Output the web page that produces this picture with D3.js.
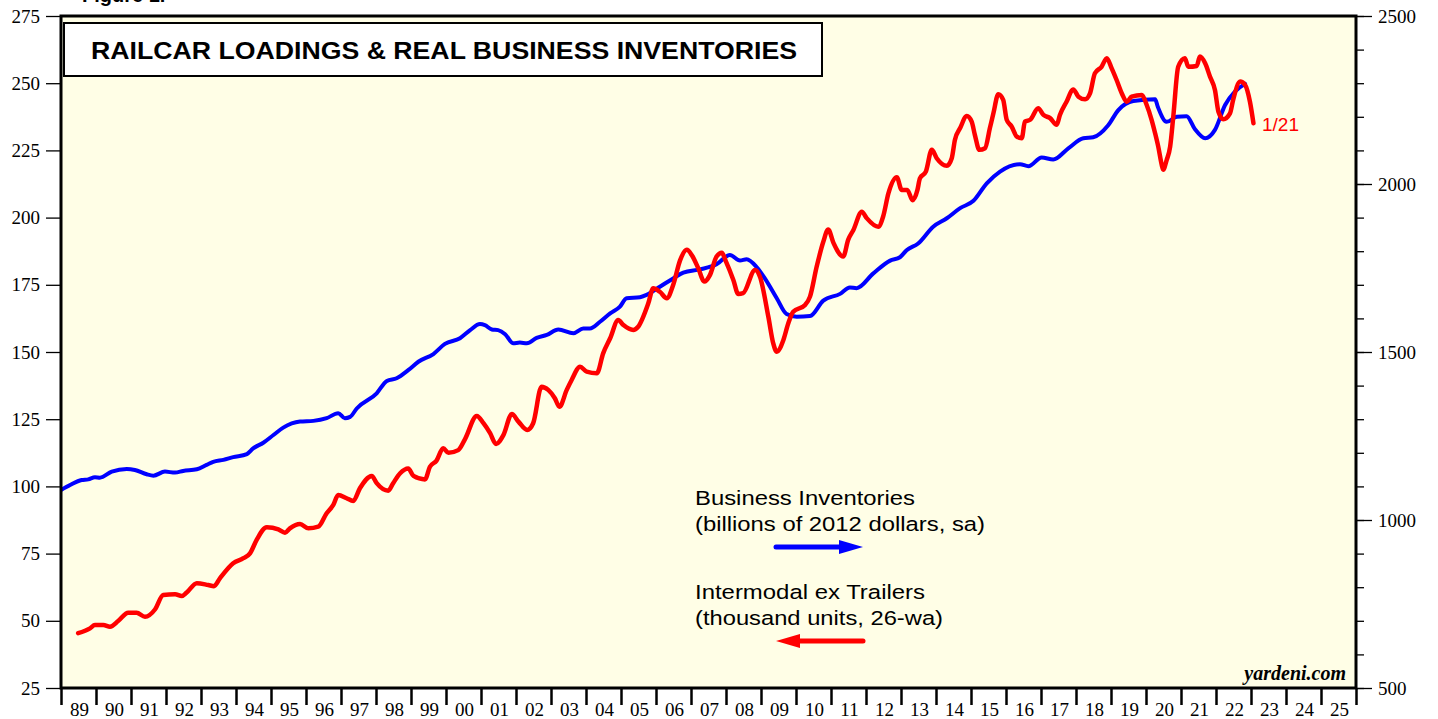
<!DOCTYPE html>
<html>
<head>
<meta charset="utf-8">
<script src="https://cdn.jsdelivr.net/npm/d3@7"></script>
<style>
  html, body { margin: 0; padding: 0; background: #fff; }
  svg { display: block; }
</style>
</head>
<body>
<div id="chart"></div>
<script>
// Intermodal ex trailers (thousand units, 26-wa) -- left axis
const redYears = [1989.49,1989.83,1989.97,1990.21,1990.40,1990.64,1990.92,1991.16,1991.40,1991.69,1991.92,1992.26,1992.45,1992.59,1992.88,1993.21,1993.37,1993.54,1993.92,1994.21,1994.40,1994.59,1994.88,1995.21,1995.40,1995.54,1995.83,1996.07,1996.35,1996.59,1996.78,1996.92,1997.16,1997.35,1997.54,1997.88,1998.02,1998.35,1998.49,1998.69,1998.92,1999.07,1999.40,1999.54,1999.73,1999.92,2000.07,2000.35,2000.54,2000.88,2001.07,2001.26,2001.43,2001.64,2001.88,2002.07,2002.32,2002.49,2002.73,2002.92,2003.11,2003.24,2003.45,2003.59,2003.83,2004.02,2004.31,2004.49,2004.69,2004.92,2005.07,2005.35,2005.49,2005.78,2005.92,2006.11,2006.31,2006.49,2006.69,2006.88,2007.02,2007.21,2007.38,2007.54,2007.73,2007.88,2008.00,2008.21,2008.35,2008.49,2008.83,2008.97,2009.21,2009.35,2009.45,2009.64,2009.78,2009.92,2010.26,2010.40,2010.59,2010.78,2010.92,2011.07,2011.35,2011.49,2011.64,2011.88,2012.02,2012.35,2012.49,2012.64,2012.88,2013.02,2013.18,2013.33,2013.47,2013.54,2013.71,2013.88,2014.02,2014.31,2014.45,2014.54,2014.69,2014.88,2015.02,2015.11,2015.24,2015.40,2015.54,2015.64,2015.78,2015.92,2016.02,2016.16,2016.31,2016.45,2016.54,2016.69,2016.92,2017.07,2017.26,2017.45,2017.54,2017.73,2017.92,2018.07,2018.26,2018.40,2018.54,2018.73,2018.88,2019.02,2019.16,2019.31,2019.45,2019.59,2019.88,2020.02,2020.16,2020.26,2020.35,2020.45,2020.49,2020.59,2020.69,2020.78,2020.92,2021.11,2021.21,2021.45,2021.54,2021.69,2021.83,2021.97,2022.07,2022.21,2022.40,2022.49,2022.69,2022.83,2022.97,2023.07];
const redValues = [45.4,47.2,48.4,48.4,47.8,50.0,53.0,53.0,51.5,54.3,59.6,59.9,59.2,60.5,64.0,63.3,62.9,65.8,71.4,73.3,75.1,80.1,84.8,84.0,82.8,84.4,86.0,84.4,85.0,90.0,93.1,96.8,95.6,94.6,99.3,103.9,101.2,98.4,101.2,104.9,106.7,103.9,102.6,107.3,109.6,114.2,112.5,113.5,117.5,126.2,123.5,119.8,115.8,119.1,126.9,124.1,121.0,123.5,137.1,135.9,132.8,129.6,135.9,139.6,144.5,142.7,142.1,149.5,155.1,161.9,160.0,158.2,159.4,168.1,173.7,172.4,170.0,174.9,184.2,188.0,186.1,181.1,176.2,178.6,185.5,186.9,183.6,176.8,171.6,171.9,180.5,178.0,163.1,153.2,150.1,154.5,160.7,165.0,167.5,170.6,181.7,191.0,195.6,190.6,185.5,191.7,195.4,202.2,199.8,196.6,200.4,209.0,215.0,210.3,210.3,206.5,210.3,214.6,217.1,225.2,222.1,219.3,222.1,228.9,233.3,237.8,235.7,230.8,225.2,225.8,233.3,238.8,245.9,243.8,236.4,233.9,230.1,229.5,235.7,236.4,240.7,238.2,237.0,234.5,238.2,243.1,247.7,245.0,244.0,246.2,253.7,256.1,259.3,255.5,251.2,246.2,243.1,245.0,245.6,241.9,236.4,231.4,226.4,219.6,217.8,221.4,226.4,237.6,256.1,259.3,256.1,256.4,259.9,257.4,252.4,247.5,239.4,236.6,238.8,243.8,250.6,249.4,243.1,235.1];

// Business inventories (billions of 2012 dollars, sa) -- right axis
const blueYears = [1989.00,1989.26,1989.59,1989.78,1989.97,1990.11,1990.45,1990.88,1991.11,1991.45,1991.64,1991.97,1992.26,1992.49,1992.88,1993.16,1993.35,1993.64,1993.92,1994.31,1994.49,1994.78,1995.07,1995.35,1995.83,1996.21,1996.59,1996.92,1997.11,1997.26,1997.45,1998.02,1998.31,1998.59,1998.92,1999.21,1999.64,1999.97,2000.40,2000.69,2000.97,2001.11,2001.31,2001.49,2001.69,2001.92,2002.11,2002.31,2002.59,2002.88,2003.21,2003.64,2003.92,2004.11,2004.40,2004.69,2004.97,2005.16,2005.54,2005.73,2006.11,2006.49,2006.78,2007.26,2007.73,2008.11,2008.40,2008.59,2008.88,2009.11,2009.45,2009.73,2010.02,2010.40,2010.78,2011.26,2011.54,2011.73,2012.21,2012.69,2012.97,2013.16,2013.49,2013.92,2014.31,2014.69,2015.07,2015.45,2015.83,2016.40,2016.64,2017.02,2017.35,2017.78,2018.21,2018.49,2018.92,2019.21,2019.64,2020.26,2020.34,2020.59,2020.88,2021.16,2021.40,2021.69,2021.97,2022.26,2022.54,2022.83];
const blueValues = [1089,1104,1119,1121,1127,1126,1144,1152,1149,1136,1132,1144,1141,1146,1151,1164,1173,1179,1187,1196,1213,1230,1253,1275,1293,1295,1303,1318,1303,1307,1332,1377,1414,1422,1446,1471,1494,1524,1541,1565,1583,1580,1567,1565,1553,1526,1528,1526,1542,1551,1567,1556,1570,1570,1590,1615,1635,1660,1663,1670,1694,1719,1736,1746,1761,1789,1772,1776,1752,1719,1660,1613,1605,1607,1653,1673,1692,1690,1734,1772,1782,1803,1823,1873,1898,1928,1950,2002,2037,2059,2053,2079,2073,2106,2136,2139,2175,2220,2247,2252,2229,2185,2200,2202,2163,2136,2161,2235,2275,2298];

const leftTicks = [25,50,75,100,125,150,175,200,225,250,275];
const rightTicks = [500,1000,1500,2000,2500];
const yearLabels = ["89","90","91","92","93","94","95","96","97","98","99","00","01","02","03","04","05","06","07","08","09","10","11","12","13","14","15","16","17","18","19","20","21","22","23","24","25"];

const W = 1438, H = 719;
const plotL = 61, plotR = 1356, plotT = 16, plotB = 688;
const serif = "'Liberation Serif', 'Times New Roman', serif";
const sans = "'Liberation Sans', Arial, sans-serif";

const svg = d3.select("#chart").append("svg")
  .attr("width", W).attr("height", H);

const x = d3.scaleLinear().domain([1989, 2026]).range([plotL, plotR]);
const yL = d3.scaleLinear().domain([25, 275]).range([plotB, plotT]);
const yR = d3.scaleLinear().domain([500, 2500]).range([plotB, plotT]);

// figure label, mostly cut off at the top edge as in the original
svg.append("text")
  .attr("x", 82).attr("y", 2)
  .attr("font-family", sans).attr("font-weight", "bold").attr("font-size", 20)
  .text("Figure 1.");

// plot background
svg.append("rect")
  .attr("x", plotL).attr("y", plotT)
  .attr("width", plotR - plotL).attr("height", plotB - plotT)
  .attr("fill", "#fffee6");

// left axis
const gL = svg.append("g")
  .attr("transform", `translate(${plotL},0)`)
  .call(d3.axisLeft(yL).tickValues(leftTicks).tickSize(15).tickPadding(6));
gL.select(".domain").remove();
gL.selectAll("line").attr("stroke", "#000").attr("stroke-width", 1.3);
gL.selectAll("text").attr("font-family", serif).attr("font-size", 19).attr("fill", "#000");

// right axis: minor ticks every 100, majors every 500
const gRm = svg.append("g")
  .attr("transform", `translate(${plotR},0)`)
  .call(d3.axisRight(yR).tickValues(d3.range(500, 2501, 100)).tickSize(8).tickFormat(""));
gRm.select(".domain").remove();
gRm.selectAll("line").attr("stroke", "#000").attr("stroke-width", 1.3);

const gR = svg.append("g")
  .attr("transform", `translate(${plotR},0)`)
  .call(d3.axisRight(yR).tickValues(rightTicks).tickSize(16).tickPadding(6).tickFormat(d3.format("d")));
gR.select(".domain").remove();
gR.selectAll("line").attr("stroke", "#000").attr("stroke-width", 1.3);
gR.selectAll("text").attr("font-family", serif).attr("font-size", 19).attr("fill", "#000");

// bottom axis: year boundary ticks, labels centred in each year
const gB = svg.append("g")
  .attr("transform", `translate(0,${plotB})`)
  .call(d3.axisBottom(x).tickValues(d3.range(1989, 2027)).tickSize(17).tickFormat(""));
gB.select(".domain").remove();
gB.selectAll("line").attr("stroke", "#000").attr("stroke-width", 2.5);

svg.append("g").selectAll("text")
  .data(yearLabels)
  .join("text")
  .attr("x", (d, i) => x(1989.5 + i) + 1)
  .attr("y", 716)
  .attr("text-anchor", "middle")
  .attr("font-family", serif).attr("font-size", 19)
  .text(d => d);

// series
svg.append("clipPath").attr("id", "plot-clip")
  .append("rect").attr("x", plotL).attr("y", plotT)
  .attr("width", plotR - plotL).attr("height", plotB - plotT);

const blueLine = d3.line()
  .x(i => x(blueYears[i])).y(i => yR(blueValues[i]))
  .curve(d3.curveMonotoneX);
const redLine = d3.line()
  .x(i => x(redYears[i])).y(i => yL(redValues[i]))
  .curve(d3.curveMonotoneX);

svg.append("path")
  .attr("d", blueLine(d3.range(blueYears.length)))
  .attr("clip-path", "url(#plot-clip)")
  .attr("fill", "none").attr("stroke", "#0000ff")
  .attr("stroke-width", 4).attr("stroke-linejoin", "round").attr("stroke-linecap", "round");

svg.append("path")
  .attr("d", redLine(d3.range(redYears.length)))
  .attr("clip-path", "url(#plot-clip)")
  .attr("fill", "none").attr("stroke", "#ff0000")
  .attr("stroke-width", 4.5).attr("stroke-linejoin", "round").attr("stroke-linecap", "round");

// end label for the red series
svg.append("text")
  .attr("x", 1262).attr("y", 131)
  .attr("font-family", sans).attr("font-size", 19).attr("fill", "#ff0000")
  .text("1/21");

// frame
svg.append("rect")
  .attr("x", plotL).attr("y", plotT)
  .attr("width", plotR - plotL).attr("height", plotB - plotT)
  .attr("fill", "none").attr("stroke", "#000").attr("stroke-width", 3);

// title box
svg.append("rect")
  .attr("x", 64).attr("y", 23).attr("width", 758).attr("height", 53)
  .attr("fill", "#fff").attr("stroke", "#000").attr("stroke-width", 2);
svg.append("text")
  .attr("x", 91).attr("y", 59)
  .attr("font-family", sans).attr("font-weight", "bold").attr("font-size", 24)
  .attr("textLength", 706).attr("lengthAdjust", "spacingAndGlyphs")
  .text("RAILCAR LOADINGS & REAL BUSINESS INVENTORIES");

// legend
const legend = [
  { lines: ["Business Inventories", "(billions of 2012 dollars, sa)"], widths: [220, 290], y: 505, color: "#0000ff", dir: 1 },
  { lines: ["Intermodal ex Trailers", "(thousand units, 26-wa)"], widths: [230, 248], y: 599, color: "#ff0000", dir: -1 }
];
legend.forEach(l => {
  l.lines.forEach((t, i) => {
    svg.append("text")
      .attr("x", 695).attr("y", l.y + i * 26)
      .attr("font-family", sans).attr("font-size", 20.5)
      .attr("textLength", l.widths[i]).attr("lengthAdjust", "spacingAndGlyphs")
      .text(t);
  });
  const ay = l.y + 42;
  const x0 = 776, x1 = 863, head = 24;
  if (l.dir > 0) {
    svg.append("line").attr("x1", x0).attr("x2", x1 - head + 2).attr("y1", ay).attr("y2", ay)
      .attr("stroke", l.color).attr("stroke-width", 5).attr("stroke-linecap", "round");
    svg.append("path")
      .attr("d", `M${x1},${ay} L${x1 - head},${ay - 7} L${x1 - head},${ay + 7} Z`)
      .attr("fill", l.color);
  } else {
    svg.append("line").attr("x1", x0 + head - 2).attr("x2", x1).attr("y1", ay).attr("y2", ay)
      .attr("stroke", l.color).attr("stroke-width", 5).attr("stroke-linecap", "round");
    svg.append("path")
      .attr("d", `M${x0},${ay} L${x0 + head},${ay - 7} L${x0 + head},${ay + 7} Z`)
      .attr("fill", l.color);
  }
});

// source
svg.append("text")
  .attr("x", 1346).attr("y", 680)
  .attr("text-anchor", "end")
  .attr("font-family", serif).attr("font-weight", "bold").attr("font-style", "italic").attr("font-size", 20)
  .text("yardeni.com");
</script>
</body>
</html>
